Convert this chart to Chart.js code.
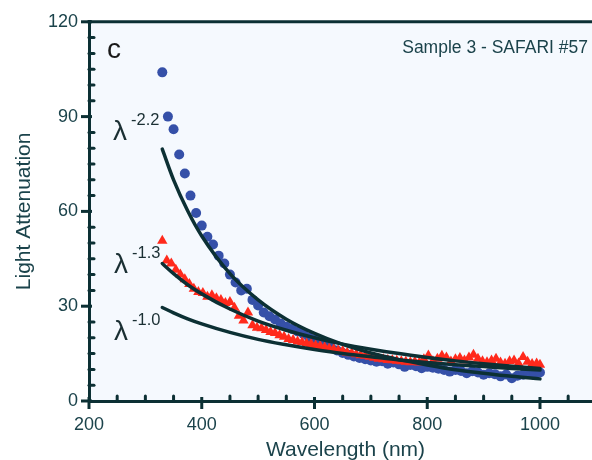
<!DOCTYPE html>
<html><head><meta charset="utf-8">
<script src="https://cdn.jsdelivr.net/npm/chart.js@4"></script>
<style>
html,body{margin:0;padding:0;background:#fff;overflow:hidden;width:592px;height:460px}
#wrap{width:608px;height:460px}
</style></head>
<body><div id="wrap"><canvas id="c" width="608" height="460"></canvas></div>
<script>
const blueWavelength = [330,340,350,360,370,380,390,400,410,420,430,440,450,460,470,480,490,500,510,520,530,540,550,560,570,580,590,600,610,620,630,640,650,660,670,680,690,700,710,720,730,740,750,760,770,780,790,800,810,820,830,840,850,860,870,880,890,900,910,920,930,940,950,960,970,980,990,1000];
const blueAttenuation = [104,90,86,78,72,65,59.5,55.5,52,49.5,46,43.5,40,37.5,35,35.5,32,30.2,28,26.8,25.8,24.5,23.5,22.8,22,21.3,20.2,19.4,18.5,17.6,16.8,16,15.2,14.6,14.1,13.6,13.2,12.8,12.4,12.6,11.8,12.2,11.6,10.8,11.4,11,10.4,10.8,10.5,10.2,9.8,9.3,9.8,9.5,8.8,9.4,9.0,8.3,8.8,8.5,7.8,8.4,7.2,8.0,8.3,8.6,8.2,9.0];
const redWavelength = [330,338,346,354,362,370,378,386,394,402,410,418,426,434,442,450,458,466,474,482,490,498,506,514,522,530,538,546,554,562,570,578,586,594,602,610,618,626,634,642,650,658,666,674,682,690,698,706,714,722,730,738,746,754,762,770,778,786,794,802,810,818,826,834,842,850,858,866,874,882,890,898,906,914,922,930,938,946,954,962,970,978,986,994,1000];
const redAttenuation = [50.7,44.5,43.5,41.5,40,38.5,37,35.5,34.5,34.2,33,33.5,32.5,32,31,31.3,29.5,27,25.5,28,24,23.2,23,22.5,21.8,21.5,20.8,20.3,19.6,19.3,18.8,18.6,18.2,18,17.6,17.4,17,16.6,16.4,16,15.8,15.3,15.1,14.8,14.5,14.3,14,13.7,13.4,13.2,13,12.9,12.7,12.6,12.4,12.3,12.4,12.2,13.2,14.4,12.6,13.4,14.3,13.8,12.5,13.2,13.6,12.8,13.8,14.6,13.4,12.6,12.3,12.8,13.4,12.2,11.8,12.6,12.8,11.9,13.9,12.4,11.7,11.9,11.5];
const fitWavelength = [330,350,375,400,450,500,550,600,650,700,750,800,850,900,950,1000];
const fitPow22 = [79.7,70.0,60.2,52.2,40.3,32.0,25.9,21.4,17.9,15.2,13.1,11.4,9.9,8.8,7.8,7.0];
const fitPow13 = [43.5,40.3,36.8,33.9,29.1,25.3,22.4,20.0,18.0,16.4,15.0,13.8,12.7,11.8,11.0,10.3];
const fitPow10 = [29.6,27.9,26.0,24.4,21.7,19.5,17.8,16.3,15.0,14.0,13.0,12.2,11.5,10.9,10.3,9.8];
const xTickValues = [200,400,600,800,1000];
const yTickValues = [0,30,60,90,120];

const AXIS = '#0c3034';
const TXT = '#1b434b';
const FONT = "'Liberation Sans', Arial, sans-serif";

const pts = (xs, ys) => xs.map((x, i) => ({x, y: ys[i]}));

const curve = (data) => ({
  type: 'line', data, showLine: true, borderColor: AXIS, borderWidth: 3.5,
  pointRadius: 0, fill: false, cubicInterpolationMode: 'monotone', borderCapStyle: 'round'
});

const decor = {
  id: 'decor',
  beforeDraw(chart) {
    const {ctx, chartArea: a} = chart;
    ctx.save();
    ctx.fillStyle = '#f5f9fe';
    ctx.fillRect(a.left, a.top, a.right - a.left, a.bottom - a.top);
    ctx.restore();
  },
  afterDraw(chart) {
    const {ctx, chartArea: a, scales: {x, y}} = chart;
    ctx.save();
    ctx.strokeStyle = AXIS;
    ctx.lineWidth = 3;
    ctx.beginPath(); ctx.moveTo(a.left - 1.5, a.top); ctx.lineTo(a.right, a.top); ctx.stroke();
    ctx.lineCap = 'round';
    for (let v = 250; v <= 1100; v += 50) {
      if (v % 200 === 0) continue;
      const px = x.getPixelForValue(v);
      ctx.beginPath(); ctx.moveTo(px, a.bottom); ctx.lineTo(px, a.bottom - 5); ctx.stroke();
    }
    for (let v = 5; v < 120; v += 5) {
      if (v % 30 === 0) continue;
      const py = y.getPixelForValue(v);
      ctx.beginPath(); ctx.moveTo(a.left, py); ctx.lineTo(a.left + 5, py); ctx.stroke();
    }
    ctx.lineCap = 'butt';
    xTickValues.forEach(v => {
      const px = x.getPixelForValue(v);
      ctx.beginPath(); ctx.moveTo(px, a.bottom - 4); ctx.lineTo(px, a.bottom + 8); ctx.stroke();
    });
    yTickValues.forEach(v => {
      const py = y.getPixelForValue(v);
      ctx.beginPath(); ctx.moveTo(a.left - 8, py); ctx.lineTo(a.left + 3, py); ctx.stroke();
    });
    ctx.fillStyle = '#1a1a1a';
    ctx.textBaseline = 'alphabetic';
    ctx.textAlign = 'left';
    ctx.font = '28px ' + FONT;
    ctx.fillText('c', 107, 58);
    ctx.fillStyle = TXT;
    ctx.font = '17.5px ' + FONT;
    ctx.textAlign = 'right';
    ctx.fillText('Sample 3 - SAFARI #57', 588, 53);
    ctx.textAlign = 'left';
    ctx.fillStyle = '#1a2f33';
    const lam = (bx, by, sup) => {
      ctx.font = '28px ' + FONT;
      ctx.fillText('\u03bb', bx, by);
      ctx.font = '16.5px ' + FONT;
      ctx.fillText(sup, bx + 18, by - 15);
    };
    lam(113, 140, '-2.2');
    lam(114, 273, '-1.3');
    lam(114, 340, '-1.0');
    ctx.restore();
  }
};

new Chart(document.getElementById('c'), {
  type: 'scatter',
  data: {
    datasets: [
      curve(pts(fitWavelength, fitPow22)),
      curve(pts(fitWavelength, fitPow13)),
      curve(pts(fitWavelength, fitPow10)),
      {
        label: 'red', data: pts(redWavelength, redAttenuation),
        pointStyle: 'triangle', pointRadius: 6, backgroundColor: '#ff2a1c', borderWidth: 0, borderColor: '#ff2a1c'
      },
      {
        label: 'blue', data: pts(blueWavelength, blueAttenuation),
        pointStyle: 'circle', pointRadius: 5, backgroundColor: '#3550a8', borderWidth: 0, borderColor: '#3550a8'
      }
    ]
  },
  options: {
    responsive: false,
    animation: false,
    layout: {padding: {top: 20, left: 0, right: 0, bottom: 0}},
    plugins: {legend: {display: false}, tooltip: {enabled: false}},
    scales: {
      x: {
        type: 'linear', min: 200, max: 1110,
        afterBuildTicks: s => { s.ticks = xTickValues.map(v => ({value: v})); },
        afterFit: s => { s.height = 59; },
        grid: {display: false, drawTicks: false},
        border: {display: true, color: AXIS, width: 3},
        ticks: {color: TXT, font: {family: FONT, size: 18}, padding: 13, maxRotation: 0, autoSkip: false, callback: v => String(v)},
        title: {display: true, text: 'Wavelength (nm)', color: TXT, font: {family: FONT, size: 21}, padding: {top: 0, bottom: -3}}
      },
      y: {
        type: 'linear', min: 0, max: 120,
        afterBuildTicks: s => { s.ticks = yTickValues.map(v => ({value: v})); },
        afterFit: s => { s.width = 89; },
        grid: {display: false, drawTicks: false},
        border: {display: true, color: AXIS, width: 3},
        ticks: {color: TXT, font: {family: FONT, size: 18}, padding: 11, autoSkip: false, callback: v => String(v)},
        title: {display: true, text: 'Light Attenuation', color: TXT, font: {family: FONT, size: 21}, padding: {top: 12, bottom: 0}}
      }
    }
  },
  plugins: [decor]
});
</script>
</body></html>
